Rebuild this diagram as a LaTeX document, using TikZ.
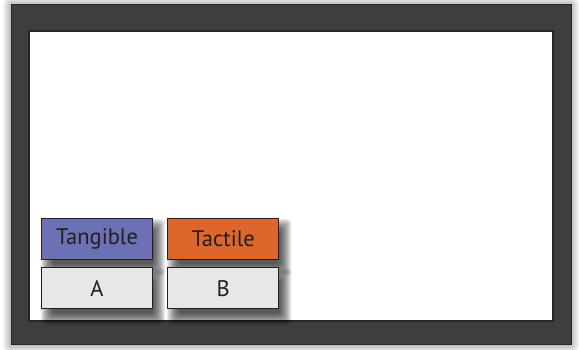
\documentclass[tikz,border=0pt]{standalone}
\usepackage{fontspec}
\setmainfont{PT Sans}
\usetikzlibrary{positioning}

\definecolor{framegray}{HTML}{3E3E3E}
\definecolor{edgegray}{HTML}{262626}
\definecolor{tanblue}{HTML}{6C70B5}
\definecolor{tacorange}{HTML}{DE652B}
\definecolor{keygray}{HTML}{E6E7E8}
\definecolor{inkline}{HTML}{231F20}

\pgfdeclarelayer{back}
\pgfdeclarelayer{shade}
\pgfsetlayers{back,shade,main}

\begin{document}
\begin{tikzpicture}[x=1pt,y=1pt,line join=round,
  keybox/.style={draw=inkline,line width=1.3pt,minimum width=111pt,minimum height=41pt,
    inner sep=0pt,text=inkline,font=\fontsize{22.5}{26}\selectfont},
  softshade/.style={black,opacity=0.075,rounded corners=4pt}]
  \useasboundingbox (0,0) rectangle (579,350);
  % screen frame with its glow
  \coordinate (F0) at (11,5);
  \coordinate (F1) at (571,345);
  \coordinate (S0) at (29,29);
  \coordinate (S1) at (553,319);
  \begin{pgfonlayer}{back}
    \foreach \d in {1,...,8}
      \fill[black,opacity=0.035,rounded corners=\d pt] ([shift={(-\d,-\d)}]F0) rectangle ([shift={(\d,\d)}]F1);
    \fill[framegray] (F0) rectangle (F1);
    \draw[edgegray,line width=1pt] (F0) rectangle (F1);
    \fill[white] (S0) rectangle (S1);
    \draw[edgegray,line width=2pt] (S0) rectangle (S1);
  \end{pgfonlayer}
  % keys
  \node[keybox,fill=tanblue] (tangible) at (97,111) {Tangible};
  \node[keybox,fill=tacorange,right=14pt of tangible] (tactile) {Tactile};
  \node[keybox,fill=keygray,below=7pt of tangible] (a) {A};
  \node[keybox,fill=keygray,below=7pt of tactile] (b) {B};
  % drop shadows under the keys
  \begin{pgfonlayer}{shade}
    \foreach \k in {tangible,tactile,a,b}
      \foreach \d in {0,...,12}
        \fill[softshade] ([shift={(12-\d,-4-\d)}]\k.south west) rectangle ([shift={(\d,-13+\d)}]\k.north east);
  \end{pgfonlayer}
\end{tikzpicture}
\end{document}
